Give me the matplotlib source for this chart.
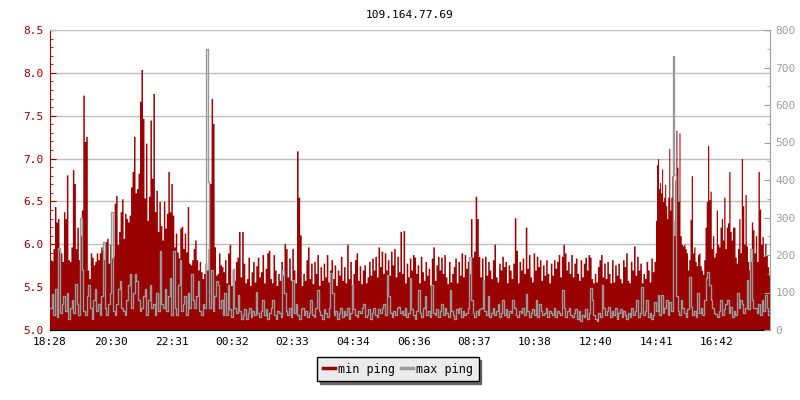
import numpy as np
import matplotlib
matplotlib.use("Agg")
import matplotlib.pyplot as plt
from matplotlib.ticker import MultipleLocator, FormatStrFormatter
from matplotlib.lines import Line2D

plt.rcParams['font.family'] = ['DejaVu Sans Mono']

title = "109.164.77.69"
start_clock = "18:28"
span_min = 1440
tick_labels = ["18:28", "20:30", "22:31", "00:32", "02:33", "04:34",
               "06:36", "08:37", "10:38", "12:40", "14:41", "16:42"]

# min ping (left axis), read block by block from the picture
red_1 = [5.82, 5.80, 5.95, 6.44, 6.26, 6.30, 5.93, 5.90, 5.80, 6.38, 6.30, 6.81, 5.82, 5.80, 5.97,
         6.87, 6.71, 5.95, 6.20, 5.82, 6.10, 6.40, 7.74, 7.20, 7.26, 5.70, 5.60, 5.90, 5.85, 5.76,
         5.80, 5.90, 5.82, 5.90, 5.97, 5.93, 5.82, 6.03, 6.07, 5.78, 6.00, 5.84, 5.86, 6.48, 6.57,
         6.00, 6.15, 6.38, 6.53, 6.07, 6.36, 6.30, 6.26, 6.34, 6.67, 6.85, 7.26, 6.60, 6.65, 6.83,
         7.67, 8.04, 7.47, 6.54, 7.18, 6.28, 6.56, 7.45, 6.77, 7.76, 6.38, 6.63, 6.15, 6.50, 6.22,
         6.05, 6.50, 6.19, 6.36, 6.85, 6.38, 6.71, 6.34, 5.97, 6.13, 5.91, 5.84, 6.19, 6.21, 5.95,
         6.13, 5.91, 6.44, 5.78, 5.76, 5.82, 5.95, 6.05, 5.82, 5.70, 5.80, 5.68, 5.60, 5.66, 5.78,
         5.70, 5.95, 6.71, 7.70, 7.41, 5.97, 5.64, 5.66, 5.90, 5.76, 5.74, 5.68, 5.82]
red_2 = [5.55, 5.90, 6.00, 5.52, 5.70, 5.58, 5.80, 5.85, 6.15, 5.62, 6.15, 5.78, 5.55, 5.60, 5.85,
         5.52, 5.68, 5.80, 5.56, 5.75, 5.85, 5.62, 5.68, 5.88, 5.55, 5.72, 5.90, 5.93, 5.60, 5.55,
         5.88, 5.70, 5.52, 5.66, 5.58, 5.80, 5.64, 6.01, 5.95, 5.62, 5.84, 5.58, 5.95, 5.70, 5.55,
         7.09, 6.55, 6.11, 5.52, 5.66, 5.58, 5.82, 5.97, 5.60, 5.78, 5.54, 5.80, 5.66, 5.88, 5.52,
         5.74, 5.58, 5.78, 5.62, 5.88, 5.56, 5.70, 5.82, 5.60, 5.76, 5.52, 5.70, 5.64, 5.86, 5.58,
         5.74, 5.55, 6.00, 5.60, 5.80, 5.52, 5.66, 5.82, 5.90, 5.58, 5.75, 5.54, 5.70, 5.76, 5.55,
         5.62, 5.80, 5.64, 5.84, 5.70, 5.86, 5.62, 5.97, 5.74, 5.92, 5.66, 5.90, 5.70, 5.82, 5.64,
         5.92, 5.76, 5.95, 5.62, 5.86, 5.68, 6.15]
red_3 = [5.66, 6.16, 5.55, 5.78, 5.62, 5.84, 5.70, 5.88, 5.85, 5.66, 5.76, 5.55, 5.86, 5.68, 5.58,
         5.80, 5.64, 5.72, 5.52, 5.84, 5.97, 5.58, 5.76, 5.86, 5.70, 5.85, 5.66, 5.88, 5.62, 5.54,
         5.80, 5.56, 5.66, 5.74, 5.84, 5.55, 5.80, 5.64, 5.90, 5.62, 5.88, 5.72, 5.80, 5.66, 6.30,
         5.85, 5.92, 6.56, 6.30, 5.86, 5.62, 5.84, 5.55, 5.86, 5.64, 5.80, 5.70, 5.60, 5.82, 6.00,
         5.62, 5.56, 5.78, 5.70, 5.86, 5.74, 5.80, 5.55, 5.76, 5.70, 5.60, 5.78, 6.31, 5.93, 5.55,
         5.80, 5.70, 5.84, 5.66, 6.20, 5.72, 5.88, 5.62, 5.56, 5.90, 5.70, 5.86, 5.74, 5.82, 5.58,
         5.76, 5.64, 5.82, 5.66, 5.55, 5.78, 5.64, 5.82, 5.72, 5.80, 5.88, 5.62, 5.86, 6.00, 5.90,
         5.70, 5.80, 5.66, 5.88, 5.62, 5.78, 5.84]
red_4a = [5.66, 5.58, 5.82, 5.62, 5.78, 5.85, 5.70, 5.88, 5.85, 5.60, 5.55, 5.66, 5.56, 5.74, 5.82,
          5.88, 5.62, 5.78, 5.60, 5.80, 5.66, 5.55, 5.82, 5.56, 5.76, 5.64, 5.78, 5.60, 5.55, 5.82,
          5.74, 5.90, 5.58, 5.55, 5.80, 5.70, 5.98, 5.64, 5.86, 5.70, 5.78, 5.55, 5.66, 5.60, 5.80,
          5.70, 5.56, 5.84, 5.68, 5.80]
red_4b = [6.28, 6.93, 7.00, 6.65, 6.72, 6.60, 6.88, 6.50, 6.55, 6.70, 6.45, 6.30, 6.55, 7.12, 6.40,
          6.55, 6.80, 6.28, 6.10, 6.75, 7.33, 6.90, 6.50, 7.30]
red_4c = [6.10, 6.00, 5.98, 6.00, 5.95, 5.90, 5.70, 5.82, 6.29, 6.80, 5.90, 5.97, 5.80, 5.75, 5.88,
          5.90, 5.75, 5.70, 5.65, 5.82, 6.20, 6.50, 7.15, 6.52, 6.62, 5.95, 6.10, 5.85, 5.90, 6.40,
          6.00, 5.97, 6.20, 6.30, 6.05, 6.55, 5.95, 6.20, 6.25, 6.85, 6.15, 6.05, 6.20, 6.20, 5.85,
          5.78, 5.95, 6.30, 5.90, 7.00, 6.45, 6.00, 6.58, 5.98, 5.80, 5.70]
red_5 = [5.80, 6.26, 6.17, 5.90, 6.10, 5.80, 6.85, 6.41, 6.00, 6.09, 5.86, 6.01, 5.88, 5.74, 5.64]

# max ping (right axis)
gray_1 = [60, 95, 40, 110, 35, 218, 45, 70, 90, 50,
          100, 30, 60, 80, 45, 124, 70, 40, 298, 160,
          50, 40, 90, 120, 60, 30, 80, 110, 50, 70,
          40, 90, 236, 60, 40, 70, 98, 316, 50, 40,
          70, 110, 130, 60, 50, 40, 80, 120, 150, 60,
          100, 150, 130, 80, 50, 60, 90, 110, 40, 80,
          120, 60, 70, 40, 100, 50, 210, 70, 60, 110,
          50, 90, 140, 40, 210, 60, 40, 120, 187, 50,
          70, 90, 40, 100, 60, 150, 80, 60, 90, 130,
          50, 40, 70, 60, 750, 395, 60, 160, 50, 90,
          130, 120, 60, 80, 40, 100]
gray_2 = [40, 120, 55, 35, 162, 60, 45, 93, 50, 30,
          40, 55, 30, 45, 60, 35, 50, 40, 102, 45,
          35, 50, 80, 40, 55, 30, 45, 60, 80, 40,
          30, 50, 45, 35, 160, 98, 50, 40, 60, 35,
          133, 45, 70, 40, 30, 55, 60, 40, 50, 35,
          45, 80, 40, 35, 60, 108, 50, 40, 30, 55,
          45, 35, 60, 151, 100, 40, 50, 30, 45, 60,
          35, 50, 40, 60, 30, 45, 123, 55, 40, 35,
          50, 45, 60, 70, 35, 40, 55, 30, 45, 60,
          40, 35, 55, 45, 60, 70, 40, 147, 90, 45,
          35, 50, 40, 60, 62, 45]
gray_3 = [50, 40, 60, 35, 45, 138, 55, 40, 30, 50,
          107, 45, 35, 60, 90, 40, 50, 35, 120, 45,
          40, 55, 35, 50, 70, 40, 60, 45, 35, 107,
          50, 40, 30, 55, 45, 60, 35, 50, 40, 45,
          60, 196, 80, 45, 35, 50, 40, 55, 60, 133,
          50, 40, 90, 35, 45, 60, 40, 50, 70, 35,
          45, 80, 40, 55, 35, 50, 45, 80, 60, 40,
          35, 50, 45, 60, 40, 95, 50, 35, 45, 55,
          40, 80, 35, 70, 50, 40, 45, 60, 35, 50,
          45, 40, 60, 35, 50, 45, 40, 107, 60, 35,
          50, 60, 40, 35, 45, 55]
gray_4 = [30, 50, 25, 40, 35, 55, 30, 45, 111, 80,
          40, 30, 25, 45, 35, 120, 60, 40, 50, 62,
          35, 50, 40, 58, 30, 45, 55, 35, 52, 40,
          30, 45, 35, 60, 40, 50, 80, 35, 45, 115,
          40, 50, 80, 35, 45, 30, 40, 75, 50, 93,
          40, 93, 45, 60, 80, 40, 75, 50, 731, 413,
          90, 50, 40, 80, 60, 45, 35, 55, 142, 62,
          40, 50, 35, 98, 45, 60, 40, 80, 138, 155,
          120, 80, 60, 45, 44, 35, 50, 80, 40, 55,
          70, 80, 45, 62, 35, 50, 40, 98, 60, 80,
          70, 45, 60, 133, 55, 216, 80, 60]
gray_5 = [60, 45, 70, 40, 80, 50, 93, 60, 40]

# (start minute, end minute, values) for each block
red_blocks = [(0, 352, red_1), (352, 703, red_2), (703, 1054, red_3),
              (1054, 1211, red_4a), (1211, 1260, red_4b), (1260, 1400, red_4c),
              (1400, 1440, red_5)]
gray_blocks = [(0, 352, gray_1), (352, 703, gray_2), (703, 1054, gray_3),
               (1054, 1410, gray_4), (1410, 1440, gray_5)]


def build(blocks):
    t, v = [], []
    for a, b, vals in blocks:
        n = len(vals)
        t.extend(a + np.arange(n) * (b - a) / n)
        v.extend(vals)
    t.append(blocks[-1][1])
    v.append(v[-1])
    return np.array(t), np.array(v)


def minutes(clock):
    h, m = map(int, clock.split(":"))
    h0, m0 = map(int, start_clock.split(":"))
    return ((h * 60 + m) - (h0 * 60 + m0)) % 1440


t_red, v_red = build(red_blocks)
t_gray, v_gray = build(gray_blocks)

red = '#990000'
gray = '#999999'

fig = plt.figure(figsize=(8, 4), dpi=100)
ax = fig.add_axes([50 / 800, 70 / 400, 720 / 800, 300 / 400])
ax.fill_between(t_red, 5.0, v_red, step='post', color=red, linewidth=0, antialiased=False)
ax.set_xlim(0, span_min)
ax.set_ylim(5.0, 8.5)
ax.yaxis.set_major_locator(MultipleLocator(0.5))
ax.yaxis.set_minor_locator(MultipleLocator(0.1))
ax.yaxis.set_major_formatter(FormatStrFormatter('%.1f'))
ax.yaxis.grid(True, color='#c0c0c0', linewidth=1)
ax.set_axisbelow(True)
ax.set_xticks([minutes(c) for c in tick_labels])
ax.set_xticklabels(tick_labels)
ax.tick_params(axis='y', which='major', direction='in', length=4.5, colors=red, labelsize=8, pad=5)
ax.tick_params(axis='y', which='minor', direction='in', length=2.3, color=red)
ax.tick_params(axis='x', direction='in', length=3.6, color='black', labelsize=8, pad=5)
ax.spines['left'].set_color(red)
ax.spines['top'].set_color('#c0c0c0')
ax.spines['right'].set_visible(False)
ax.set_title(title, fontsize=8, pad=9)

ax2 = ax.twinx()
ax2.step(t_gray, v_gray, where='post', color=gray, linewidth=1)
ax2.set_ylim(0, 800)
ax2.yaxis.set_major_locator(MultipleLocator(100))
ax2.yaxis.set_minor_locator(MultipleLocator(50))
ax2.tick_params(axis='y', which='major', direction='in', length=4, colors='#a0a0a0', labelsize=8, pad=4)
ax2.tick_params(axis='y', which='minor', direction='in', length=2.3, color='#a0a0a0')
for s in ['left', 'top', 'bottom']:
    ax2.spines[s].set_visible(False)
ax2.spines['right'].set_color('#a0a0a0')

handles = [Line2D([], [], color=red, linewidth=2.5), Line2D([], [], color=gray, linewidth=2.5)]
fig.legend(handles, ['min ping', 'max ping'], loc='center',
           bbox_to_anchor=(398 / 800, 1 - 369 / 400), ncol=2, fontsize=8.5,
           frameon=True, fancybox=False, shadow={'color': '#666666', 'alpha': 1},
           edgecolor='black', facecolor='#ebebeb', framealpha=1,
           handlelength=1.0, handletextpad=0.3, columnspacing=0.5, borderpad=0.45)

fig.savefig('out.png', dpi=100)
